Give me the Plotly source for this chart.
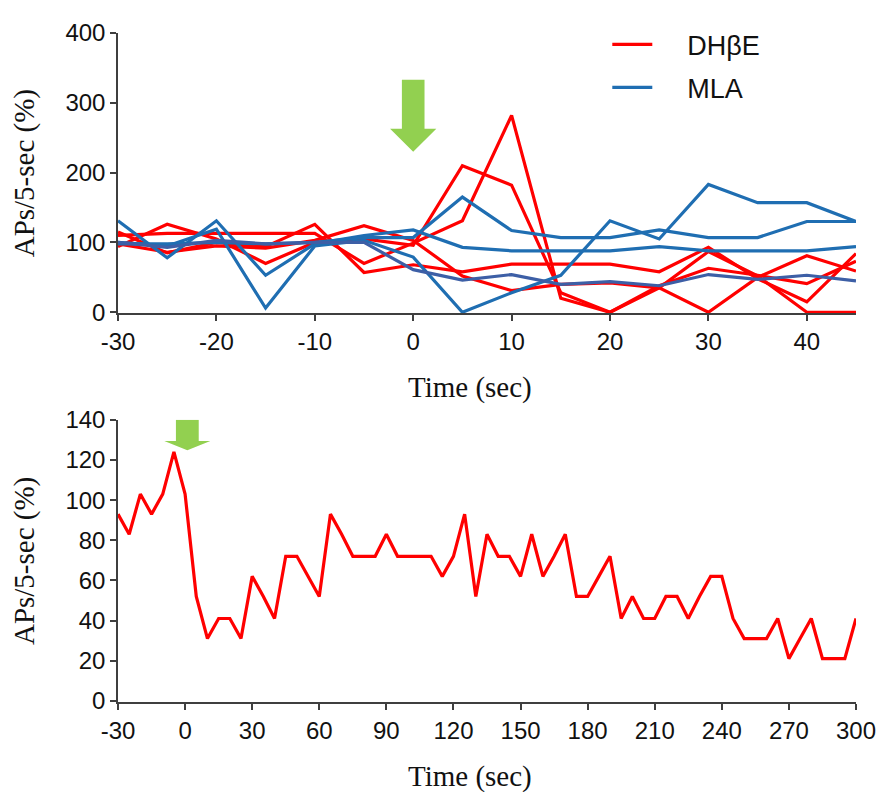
import plotly.graph_objects as go
from plotly.subplots import make_subplots

# ---- top panel data (time in sec, APs/5-sec %) ----
t_top = [-30, -25, -20, -15, -10, -5, 0, 5, 10, 15, 20, 25, 30, 35, 40, 45]

dhbe_1 = [110, 113, 113, 113, 113, 70, 99, 131, 282, 20, 0, 35, 87, 52, 0, 0]
dhbe_2 = [94, 126, 105, 70, 100, 105, 96, 210, 182, 28, 0, 38, 63, 53, 41, 73]
dhbe_3 = [115, 85, 100, 94, 126, 57, 68, 58, 69, 69, 69, 58, 93, 48, 15, 84]
dhbe_4 = [98, 86, 95, 92, 103, 124, 103, 52, 31, 40, 42, 35, 0, 50, 81, 59]

mla_1 = [131, 78, 131, 53, 98, 110, 118, 93, 88, 88, 88, 94, 88, 88, 88, 94]
mla_2 = [100, 95, 119, 6, 95, 103, 79, 0, 28, 53, 131, 105, 183, 157, 157, 130]
mla_3 = [98, 98, 100, 98, 100, 107, 107, 165, 117, 107, 107, 118, 107, 107, 130, 130]
mla_4 = [100, 93, 103, 98, 100, 100, 61, 46, 54, 40, 44, 38, 54, 47, 53, 45]

# ---- bottom panel data ----
t_bottom = list(range(-30, 301, 5))
dhbe_long = [93, 83, 103, 93, 103, 124, 103, 52, 31, 41, 41, 31, 62, 52, 41,
             72, 72, 62, 52, 93, 83, 72, 72, 72, 83, 72, 72, 72, 72, 62, 72,
             93, 52, 83, 72, 72, 62, 83, 62, 72, 83, 52, 52, 62, 72, 41, 52,
             41, 41, 52, 52, 41, 52, 62, 62, 41, 31, 31, 31, 41, 21, 31, 41,
             21, 21, 21, 41]

top_ticks = [-30, -20, -10, 0, 10, 20, 30, 40]
top_ticktext = ["-30", "-20", "-10", "0", "10", "20", "30", "40"]
bottom_ticks = [-30, 0, 30, 60, 90, 120, 150, 180, 210, 240, 270, 300]
bottom_ticktext = ["-30", "0", "30", "60", "90", "120", "150", "180", "210", "240", "270", "300"]

x_title = "Time (sec)"
y_title = "APs/5-sec (%)"

RED = "#FF0000"
BLUE = "#1F6EB2"
SLATE = "#3D5FA6"
GREEN = "#92D050"
AX = "#3F3F3F"

fig = make_subplots(rows=2, cols=1, vertical_spacing=0.0)

PAD = "\u00a0\u00a0\u00a0\u00a0"
for i, s in enumerate([dhbe_1, dhbe_2, dhbe_3, dhbe_4]):
    fig.add_trace(go.Scatter(x=t_top, y=s, mode="lines", name=PAD + "DHβE",
                             legendgroup="d", showlegend=(i == 0),
                             line=dict(color=RED, width=3.2)), row=1, col=1)
for i, (s, c) in enumerate([(mla_1, BLUE), (mla_2, BLUE), (mla_3, BLUE), (mla_4, SLATE)]):
    fig.add_trace(go.Scatter(x=t_top, y=s, mode="lines", name=PAD + "MLA",
                             legendgroup="m", showlegend=(i == 0),
                             line=dict(color=c, width=3.2)), row=1, col=1)

fig.add_trace(go.Scatter(x=t_bottom, y=dhbe_long, mode="lines", showlegend=False,
                         line=dict(color=RED, width=3.2)), row=2, col=1)

tickfont = dict(family="Liberation Sans, Arial, sans-serif", size=24, color="#111111")
titlefont = dict(family="Liberation Serif, Times New Roman, serif", size=29, color="#111111")

axis_common = dict(showline=True, linecolor=AX, linewidth=1.5, ticks="outside",
                   ticklen=6, tickcolor=AX, tickwidth=1.5, showgrid=False,
                   zeroline=False, tickfont=tickfont, mirror=False)

fig.update_xaxes(range=[-30, 45], tickvals=top_ticks, ticktext=top_ticktext,
                 domain=[0, 1], **axis_common, row=1, col=1)
fig.update_yaxes(range=[-1.5, 400], dtick=100,
                 title=dict(text=y_title, font=titlefont, standoff=24),
                 domain=[0.581, 1.0], **axis_common, row=1, col=1)
fig.update_xaxes(range=[-30, 300], tickvals=bottom_ticks, ticktext=bottom_ticktext,
                 domain=[0, 1], **axis_common, row=2, col=1)
fig.update_yaxes(range=[-0.6, 140], dtick=20,
                 title=dict(text=y_title, font=titlefont, standoff=24),
                 domain=[0.0, 0.4218], **axis_common, row=2, col=1)

for ya in (0.4705, -0.112):
    fig.add_annotation(text=x_title, xref="paper", yref="paper", x=0.477, y=ya,
                       xanchor="center", yanchor="middle", showarrow=False, font=titlefont)


def arrow_path(xc, shaft_half, head_half, y_top, y_head, y_tip):
    return (f"M {xc - shaft_half} {y_top} L {xc + shaft_half} {y_top} "
            f"L {xc + shaft_half} {y_head} L {xc + head_half} {y_head} "
            f"L {xc} {y_tip} L {xc - head_half} {y_head} L {xc - shaft_half} {y_head} Z")


fig.add_shape(type="path", xref="x", yref="y", layer="above",
              path=arrow_path(0, 1.15, 2.35, 333, 263, 230),
              fillcolor=GREEN, line=dict(width=0))
fig.add_shape(type="path", xref="x2", yref="y2", layer="above",
              path=arrow_path(1.0, 5.1, 10.3, 140, 129.5, 124.8),
              fillcolor=GREEN, line=dict(width=0))

fig.update_layout(
    width=879, height=784,
    margin=dict(l=110, r=31, t=16, b=90),
    paper_bgcolor="white", plot_bgcolor="white",
    legend=dict(x=0.663, y=1.019, xanchor="left", yanchor="top",
                font=dict(family="Liberation Sans, Arial, sans-serif", size=27, color="#111111"),
                bgcolor="rgba(255,255,255,0)", itemwidth=40, tracegroupgap=5),
)

fig.write_html("out.html")
